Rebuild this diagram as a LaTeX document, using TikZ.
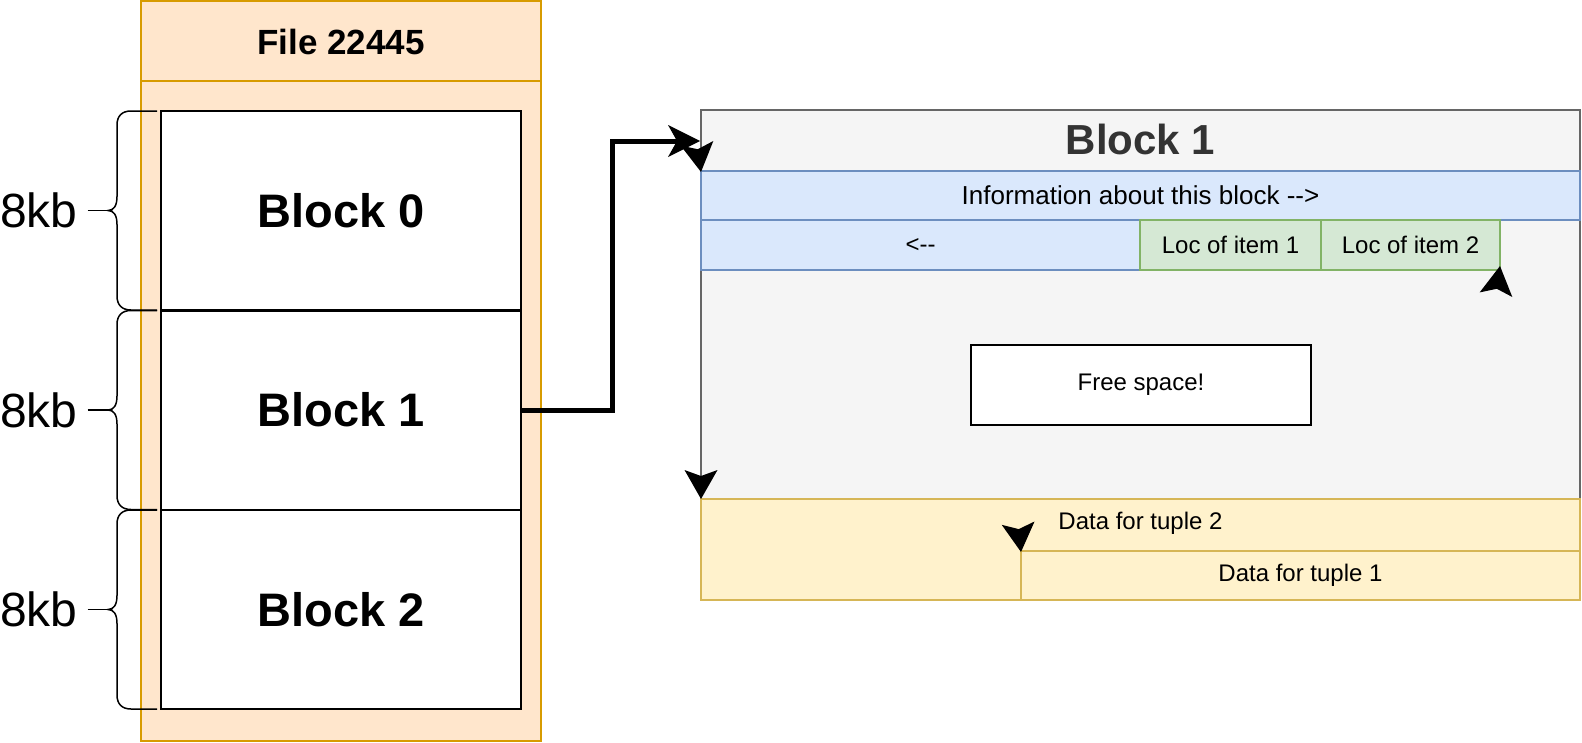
\documentclass[tikz,border=0pt]{standalone}
\usepackage{fontspec}
\setmainfont{Liberation Sans}
\usetikzlibrary{arrows.meta}

\definecolor{fileorange}{HTML}{FFE6CC}
\definecolor{filestroke}{HTML}{D79B00}
\definecolor{infoblue}{HTML}{DAE8FC}
\definecolor{infostroke}{HTML}{6C8EBF}
\definecolor{locgreen}{HTML}{D5E8D4}
\definecolor{locstroke}{HTML}{82B366}
\definecolor{tupleyellow}{HTML}{FFF2CC}
\definecolor{tuplestroke}{HTML}{D6B656}
\definecolor{pagegrey}{HTML}{F5F5F5}
\definecolor{pagestroke}{HTML}{666666}
\definecolor{titlegrey}{HTML}{333333}

\newcommand{\txtsize}[1]{\fontsize{#1pt}{#1pt}\selectfont}

\begin{document}
\begin{tikzpicture}[x=1pt,y=-1pt,
	box/.style={rectangle,inner sep=0pt,line width=2pt},
	block/.style={box,draw=black,fill=white,minimum width=360pt,minimum height=199pt,font=\txtsize{47}\bfseries},
	kbtext/.style={inner sep=0pt,outer sep=10pt,font=\txtsize{48}},
	brace/.style={line width=1.5pt},
	small/.style={font=\txtsize{24}},
	link/.style={line width=5pt,-{Stealth[length=32pt,width=32pt,inset=9pt,line width=0pt]}},
	lonehead/.style={line width=0.5pt,-{Stealth[length=29pt,width=33pt,inset=6pt,line width=0pt]}}]
	\useasboundingbox (0,0) rectangle (1582,742);
	
	\node[box,draw=filestroke,fill=fileorange,minimum width=400pt,minimum height=740pt] (file) at (341,371) {};
	\draw[filestroke,line width=2pt] (141,81) -- (541,81);
	\node[font=\txtsize{35}\bfseries] (filettl) at (341,42) {File 22445};
	
	\foreach \i/\y in {0/210.5,1/410,2/609.5} {
		\node[block] (blk\i) at (341,\y) {Block \i};
		\node[kbtext] (kb\i) at (39,\y) {8kb};
		\coordinate (tip\i) at (108,\y);
		\draw[brace] (157,\y-99.5) -- (131,\y-99.5) .. controls (122,\y-99.5) and (117,\y-94.5) .. (117,\y-85.5)
			-- (117,\y-14) .. controls (117,\y-5) and (114,\y) .. (tip\i)
			.. controls (114,\y) and (117,\y+5) .. (117,\y+14)
			-- (117,\y+85.5) .. controls (117,\y+94.5) and (122,\y+99.5) .. (131,\y+99.5) -- (157,\y+99.5);
		\draw[brace] (kb\i) -- (tip\i);
	}
	
	\node[box,draw=pagestroke,fill=pagegrey,minimum width=879pt,minimum height=389pt] (page) at (1140.5,304.5) {};
	\node[font=\txtsize{42}\bfseries,text=titlegrey] (pagettl) at (1140.5,139) {Block 1};
	\coordinate (hdr) at (700,141);
	
	\node[box,draw=infostroke,fill=infoblue,minimum width=879pt,minimum height=49pt,font=\txtsize{26}] (info) at (1140.5,195.5) {Information about this block -\kern0pt->};
	\node[box,small,draw=infostroke,fill=infoblue,minimum width=439pt,minimum height=50pt] (back) at (920.5,245) {<-\kern0pt-};
	\node[box,small,draw=locstroke,fill=locgreen,minimum width=181pt,minimum height=50pt] (loc1) at (1230.5,245) {Loc of item 1};
	\node[box,small,draw=locstroke,fill=locgreen,minimum width=179pt,minimum height=50pt] (loc2) at (1410.5,245) {Loc of item 2};
	
	\node[box,small,draw=black,fill=white,minimum width=340pt,minimum height=80pt] (free) at (1141,385) {Free space!};
	
	\node[box,draw=tuplestroke,fill=tupleyellow,minimum width=879pt,minimum height=101pt] (tuples) at (1140.5,549.5) {};
	\node[small] (tup2) at (1140.5,523) {Data for tuple 2};
	\node[box,small,draw=tuplestroke,fill=tupleyellow,minimum width=559pt,minimum height=49pt] (tup1) at (1300.5,575.5) {Data for tuple 1};
	
	\draw[link] (blk1.east) -- ++(90,0) |- (hdr);
	
	\coordinate (hb) at (701,172);
	\coordinate (hc) at (1500,266);
	\coordinate (hd) at (701,499);
	\coordinate (he) at (1021,552);
	\draw[lonehead] (697.8,149.2) -- (hb);
	\draw[lonehead] (1496.8,288.8) -- (hc);
	\draw[lonehead] (701,476) -- (hd);
	\draw[lonehead] (1018.7,529.1) -- (he);
\end{tikzpicture}
\end{document}
